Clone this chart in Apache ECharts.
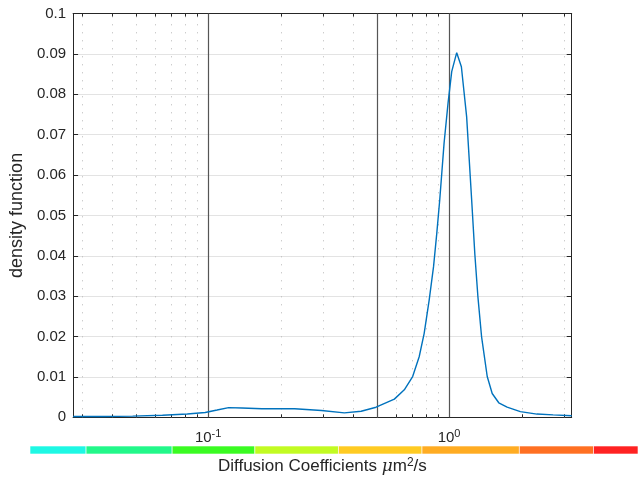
<!DOCTYPE html>
<html>
<head>
<meta charset="utf-8">
<script src="https://cdn.jsdelivr.net/npm/echarts@6/dist/echarts.min.js"></script>
<style>
  html, body { margin: 0; padding: 0; background: #ffffff; }
  #chart { width: 638px; height: 482px; }
</style>
</head>
<body>
<div id="chart"></div>
<script>
// Diffusion coefficient (µm²/s) sampled on a log grid, and the estimated density
const diffusion = [
  0.0275, 0.0365, 0.0486, 0.0646, 0.0819, 0.0972, 0.1089, 0.1217, 0.1381,
  0.1670, 0.2286, 0.2955, 0.3676, 0.4317, 0.4979, 0.5929, 0.6521, 0.7062,
  0.7517, 0.7885, 0.8270, 0.8623, 0.8896, 0.9154, 0.9537, 0.9906, 1.0259,
  1.0760, 1.1252, 1.1833, 1.2409, 1.2804, 1.3176, 1.3645, 1.4405, 1.5106,
  1.6085, 1.7418, 1.9768, 2.3163, 2.7052, 3.2300
];
const density = [
  0.0002, 0.0002, 0.0003, 0.0005, 0.0008, 0.0012, 0.0018, 0.0024, 0.0023,
  0.0021, 0.0021, 0.0017, 0.0011, 0.0015, 0.0025, 0.0045, 0.0068, 0.0101,
  0.0150, 0.0208, 0.0290, 0.0373, 0.0456, 0.0540, 0.0679, 0.0778, 0.0856,
  0.0903, 0.0868, 0.0744, 0.0540, 0.0402, 0.0299, 0.0200, 0.0101, 0.0059,
  0.0036, 0.0025, 0.0014, 0.0008, 0.0006, 0.0004
];

// Axis ranges and ticks
const xRange = [0.0275, 3.23];
const yRange = [0, 0.1];
const yStep = 0.01;
const minorTicks = [0.03, 0.04, 0.05, 0.06, 0.07, 0.08, 0.09,
                    0.2, 0.3, 0.4, 0.5, 0.6, 0.7, 0.8, 0.9, 2, 3];
const markerLines = [0.1, 0.5, 1];

// Colour scale strip beneath the axis: bin edges and bin colours
const stripRange = [0.01878, 6.066];
const stripEdges = [0.01878, 0.0320, 0.0725, 0.1591, 0.3522, 0.7789, 1.9652, 3.9747, 6.066];
const stripColors = ['#1ef8e4', '#22f88a', '#3afb22', '#c2fb22', '#ffcb22', '#ffac22', '#ff7022', '#ff2222'];

const FONT = '"Liberation Sans", Arial, Helvetica, sans-serif';
const TEXT = '#262626';

const curve = diffusion.map((d, i) => [d, density[i]]);
const strip = stripColors.map((c, i) => [stripEdges[i], stripEdges[i + 1], i]);

const chart = echarts.init(document.getElementById('chart'), null, { renderer: 'canvas' });

chart.setOption({
  animation: false,
  backgroundColor: '#ffffff',
  grid: [
    { left: 70, right: 66.3, top: 13.5, bottom: 64.7, containLabel: false },
    { left: 30, right: 0, top: 446, height: 8, containLabel: false }
  ],
  xAxis: [
    {
      type: 'log', logBase: 10, gridIndex: 0, position: 'bottom',
      min: xRange[0], max: xRange[1],
      axisLine: { show: true, onZero: false, lineStyle: { color: TEXT, width: 1 } },
      axisTick: { show: false },
      splitLine: { show: false },
      axisLabel: {
        margin: 11,
        showMinLabel: false, showMaxLabel: false,
        formatter: function (v) {
          const e = Math.log10(v);
          const r = Math.round(e);
          if (Math.abs(e - r) > 1e-6) return '';
          return '{b|10}{s|' + r + '}';
        },
        rich: {
          b: { fontFamily: FONT, fontSize: 15, color: TEXT },
          s: { fontFamily: FONT, fontSize: 11, color: TEXT, verticalAlign: 'top', padding: [0, 0, 8, 0] }
        }
      },
      name: 'Diffusion Coefficients {mu|μ}m{sup|2}/s',
      nameLocation: 'middle',
      nameGap: 39,
      nameTextStyle: {
        fontFamily: FONT, fontSize: 17, color: TEXT,
        rich: {
          mu: { fontFamily: '"DejaVu Serif", serif', fontStyle: 'italic', fontSize: 17, color: TEXT },
          sup: { fontFamily: FONT, fontSize: 12, color: TEXT, verticalAlign: 'top', padding: [0, 0, 9, 0] }
        }
      }
    },
    {
      type: 'log', logBase: 10, gridIndex: 0, position: 'top',
      min: xRange[0], max: xRange[1],
      axisLine: { show: true, onZero: false, lineStyle: { color: TEXT, width: 1 } },
      axisTick: { show: false },
      axisLabel: { show: false },
      splitLine: { show: false }
    },
    {
      type: 'log', logBase: 10, gridIndex: 1,
      min: stripRange[0], max: stripRange[1], show: false
    }
  ],
  yAxis: [
    {
      type: 'value', gridIndex: 0, position: 'left',
      min: yRange[0], max: yRange[1], interval: yStep,
      axisLine: { show: true, onZero: false, lineStyle: { color: TEXT, width: 1 } },
      axisTick: { show: true, inside: true, length: 5, lineStyle: { color: TEXT } },
      axisLabel: {
        margin: 7, fontFamily: FONT, fontSize: 15, color: TEXT,
        formatter: v => String(parseFloat(v.toFixed(3)))
      },
      splitLine: { show: true, lineStyle: { color: '#e3e3e3', width: 1 } },
      name: 'density function',
      nameLocation: 'middle',
      nameGap: 43,
      nameTextStyle: { fontFamily: FONT, fontSize: 18, color: TEXT }
    },
    {
      type: 'value', gridIndex: 0, position: 'right',
      min: yRange[0], max: yRange[1], interval: yStep,
      axisLine: { show: true, onZero: false, lineStyle: { color: TEXT, width: 1 } },
      axisTick: { show: true, inside: true, length: 5, lineStyle: { color: TEXT } },
      axisLabel: { show: false },
      splitLine: { show: false }
    },
    {
      type: 'value', gridIndex: 1, min: 0, max: 1, show: false
    }
  ],
  series: [
    {
      // minor log gridlines (dotted) with short inward ticks on top and bottom
      type: 'custom',
      xAxisIndex: 0, yAxisIndex: 0,
      silent: true, z: 1,
      data: minorTicks.map(v => [v]),
      renderItem: function (params, api) {
        const x = Math.round(api.coord([api.value(0), yRange[0]])[0]) + 0.5;
        const yb = api.coord([api.value(0), yRange[0]])[1];
        const yt = api.coord([api.value(0), yRange[1]])[1];
        return {
          type: 'group',
          children: [
            { type: 'line', shape: { x1: x, y1: yb, x2: x, y2: yt },
              style: { stroke: '#b8b8b8', lineWidth: 1, lineDash: [1, 7] } },
            { type: 'line', shape: { x1: x, y1: yb, x2: x, y2: yb - 3 },
              style: { stroke: TEXT, lineWidth: 1 } },
            { type: 'line', shape: { x1: x, y1: yt, x2: x, y2: yt + 3 },
              style: { stroke: TEXT, lineWidth: 1 } }
          ]
        };
      }
    },
    {
      // solid reference lines
      type: 'custom',
      xAxisIndex: 0, yAxisIndex: 0,
      silent: true, z: 2,
      data: markerLines.map(v => [v]),
      renderItem: function (params, api) {
        const x = Math.round(api.coord([api.value(0), yRange[0]])[0]) + 0.5;
        const yb = api.coord([api.value(0), yRange[0]])[1];
        const yt = api.coord([api.value(0), yRange[1]])[1];
        return { type: 'line', shape: { x1: x, y1: yb, x2: x, y2: yt },
                 style: { stroke: '#555555', lineWidth: 1.2 } };
      }
    },
    {
      type: 'line',
      xAxisIndex: 0, yAxisIndex: 0,
      data: curve,
      showSymbol: false,
      smooth: false,
      z: 3,
      lineStyle: { color: '#0072bd', width: 1.4 }
    },
    {
      // colour scale strip
      type: 'custom',
      xAxisIndex: 2, yAxisIndex: 2,
      silent: true,
      data: strip,
      renderItem: function (params, api) {
        const p0 = api.coord([api.value(0), 1]);
        const p1 = api.coord([api.value(1), 0]);
        return { type: 'rect',
                 shape: { x: p0[0], y: p0[1], width: p1[0] - p0[0], height: p1[1] - p0[1] },
                 style: { fill: stripColors[api.value(2)], stroke: '#ffffff', lineWidth: 0.6 } };
      }
    }
  ]
});
</script>
</body>
</html>
